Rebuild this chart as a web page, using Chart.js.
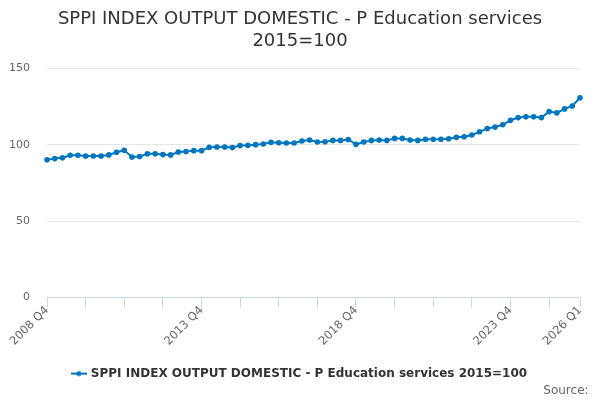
<!DOCTYPE html>
<html>
<head>
<meta charset="utf-8">
<title>SPPI Education services</title>
<script src="https://cdn.jsdelivr.net/npm/chart.js@4"></script>
<style>
  html, body { margin: 0; padding: 0; background: #fff; }
  #wrap { width: 600px; height: 400px; }
</style>
</head>
<body>
<div id="wrap"><canvas id="grafico"></canvas></div>
<script>
// Trimestres desde 2008 Q4 hasta 2026 Q1
const trimestres = [];
for (let anio = 2008; anio <= 2026; anio++) {
    for (let q = 1; q <= 4; q++) {
        if (anio === 2008 && q < 4) continue;
        if (anio === 2026 && q > 1) break;
        trimestres.push(anio + ' Q' + q);
    }
}

// Valores (2015=100)
const valores = [
    90.1, 90.9, 91.4, 93.1, 93.1, 92.6, 92.6, 92.6, 93.3, 95.0,
    96.3, 91.9, 92.3, 94.0, 94.0, 93.5, 93.3, 95.2, 95.5, 96.1,
    96.1, 98.3, 98.5, 98.5, 98.1, 99.4, 99.6, 100.0, 100.4, 101.5,
    101.3, 101.1, 101.1, 102.4, 103.0, 101.7, 101.9, 102.8, 102.8, 103.4,
    100.2, 101.7, 102.8, 103.0, 102.8, 104.1, 104.1, 103.0, 102.8, 103.5,
    103.5, 103.5, 103.9, 104.8, 105.2, 106.3, 108.4, 110.6, 111.5, 113.0,
    116.0, 117.7, 118.2, 118.2, 117.7, 121.6, 120.8, 123.4, 125.3, 130.7
];

const etiquetasVisibles = ['2008 Q4', '2013 Q4', '2018 Q4', '2023 Q4', '2026 Q1'];
const ticksY = [0, 50, 100, 150];

const nombreSerie = 'SPPI INDEX OUTPUT DOMESTIC - P Education services 2015=100';
const colorSerie = '#0076c0';

// Símbolo de la leyenda: línea con punto
const simbolo = document.createElement('canvas');
simbolo.width = 16;
simbolo.height = 8;
const sctx = simbolo.getContext('2d');
sctx.strokeStyle = colorSerie;
sctx.lineWidth = 2;
sctx.beginPath();
sctx.moveTo(0, 4);
sctx.lineTo(16, 4);
sctx.stroke();
sctx.fillStyle = colorSerie;
sctx.beginPath();
sctx.arc(8, 4, 2.5, 0, Math.PI * 2);
sctx.fill();

Chart.defaults.font.family = '"DejaVu Sans", sans-serif';

const ctx = document.getElementById('grafico').getContext('2d');
const grafico = new Chart(ctx, {
    type: 'line',
    data: {
        labels: trimestres,
        datasets: [{
            label: nombreSerie,
            data: valores,
            borderColor: colorSerie,
            backgroundColor: colorSerie,
            borderWidth: 2,
            pointRadius: 1.8,
            pointHoverRadius: 3,
            tension: 0
        }]
    },
    options: {
        responsive: true,
        maintainAspectRatio: false,
        animation: false,
        layout: { padding: { left: 0, right: 0, top: 7, bottom: 2 } },
        plugins: {
            title: {
                display: true,
                text: ['SPPI INDEX OUTPUT DOMESTIC - P Education services', '2015=100'],
                color: '#333333',
                font: { size: 18, weight: 'normal' },
                padding: { top: 2, bottom: 16 }
            },
            subtitle: {
                display: true,
                text: 'Source:   ',
                position: 'bottom',
                align: 'end',
                color: '#666666',
                font: { size: 12 },
                padding: { top: -6, bottom: 0 }
            },
            legend: {
                position: 'bottom',
                labels: {
                    usePointStyle: true,
                    pointStyle: simbolo,
                    color: '#333333',
                    font: { size: 12, weight: 'bold' },
                    padding: 4
                }
            },
            tooltip: { enabled: true }
        },
        scales: {
            x: {
                offset: false,
                border: { color: '#ccd6eb' },
                grid: {
                    drawOnChartArea: false,
                    drawTicks: true,
                    tickLength: 10,
                    color: function(c) {
                        const i = c.index;
                        return (i % 5 === 0 || i === trimestres.length - 1) ? '#ccd6eb' : 'rgba(0,0,0,0)';
                    }
                },
                ticks: {
                    autoSkip: false,
                    maxRotation: 45,
                    minRotation: 45,
                    color: '#666666',
                    font: { size: 11.5 },
                    padding: -4,
                    callback: function(valor, indice) {
                        const etiqueta = trimestres[indice];
                        return etiquetasVisibles.includes(etiqueta) ? etiqueta : '';
                    }
                },
                afterFit: function(eje) {
                    eje.height = 66;
                }
            },
            y: {
                min: 0,
                max: 150,
                border: { display: false },
                grid: { color: '#e6e6e6', drawTicks: false },
                afterBuildTicks: function(eje) {
                    eje.ticks = ticksY.map(v => ({ value: v }));
                },
                ticks: {
                    color: '#666666',
                    font: { size: 11 },
                    padding: 17
                },
                afterFit: function(eje) {
                    eje.width = 47;
                }
            },
            // eje vacío para dejar margen a la derecha
            margenDerecho: {
                position: 'right',
                display: true,
                border: { display: false },
                grid: { display: false },
                ticks: { display: false },
                afterFit: function(eje) {
                    eje.width = 20;
                }
            }
        }
    }
});
</script>
</body>
</html>
